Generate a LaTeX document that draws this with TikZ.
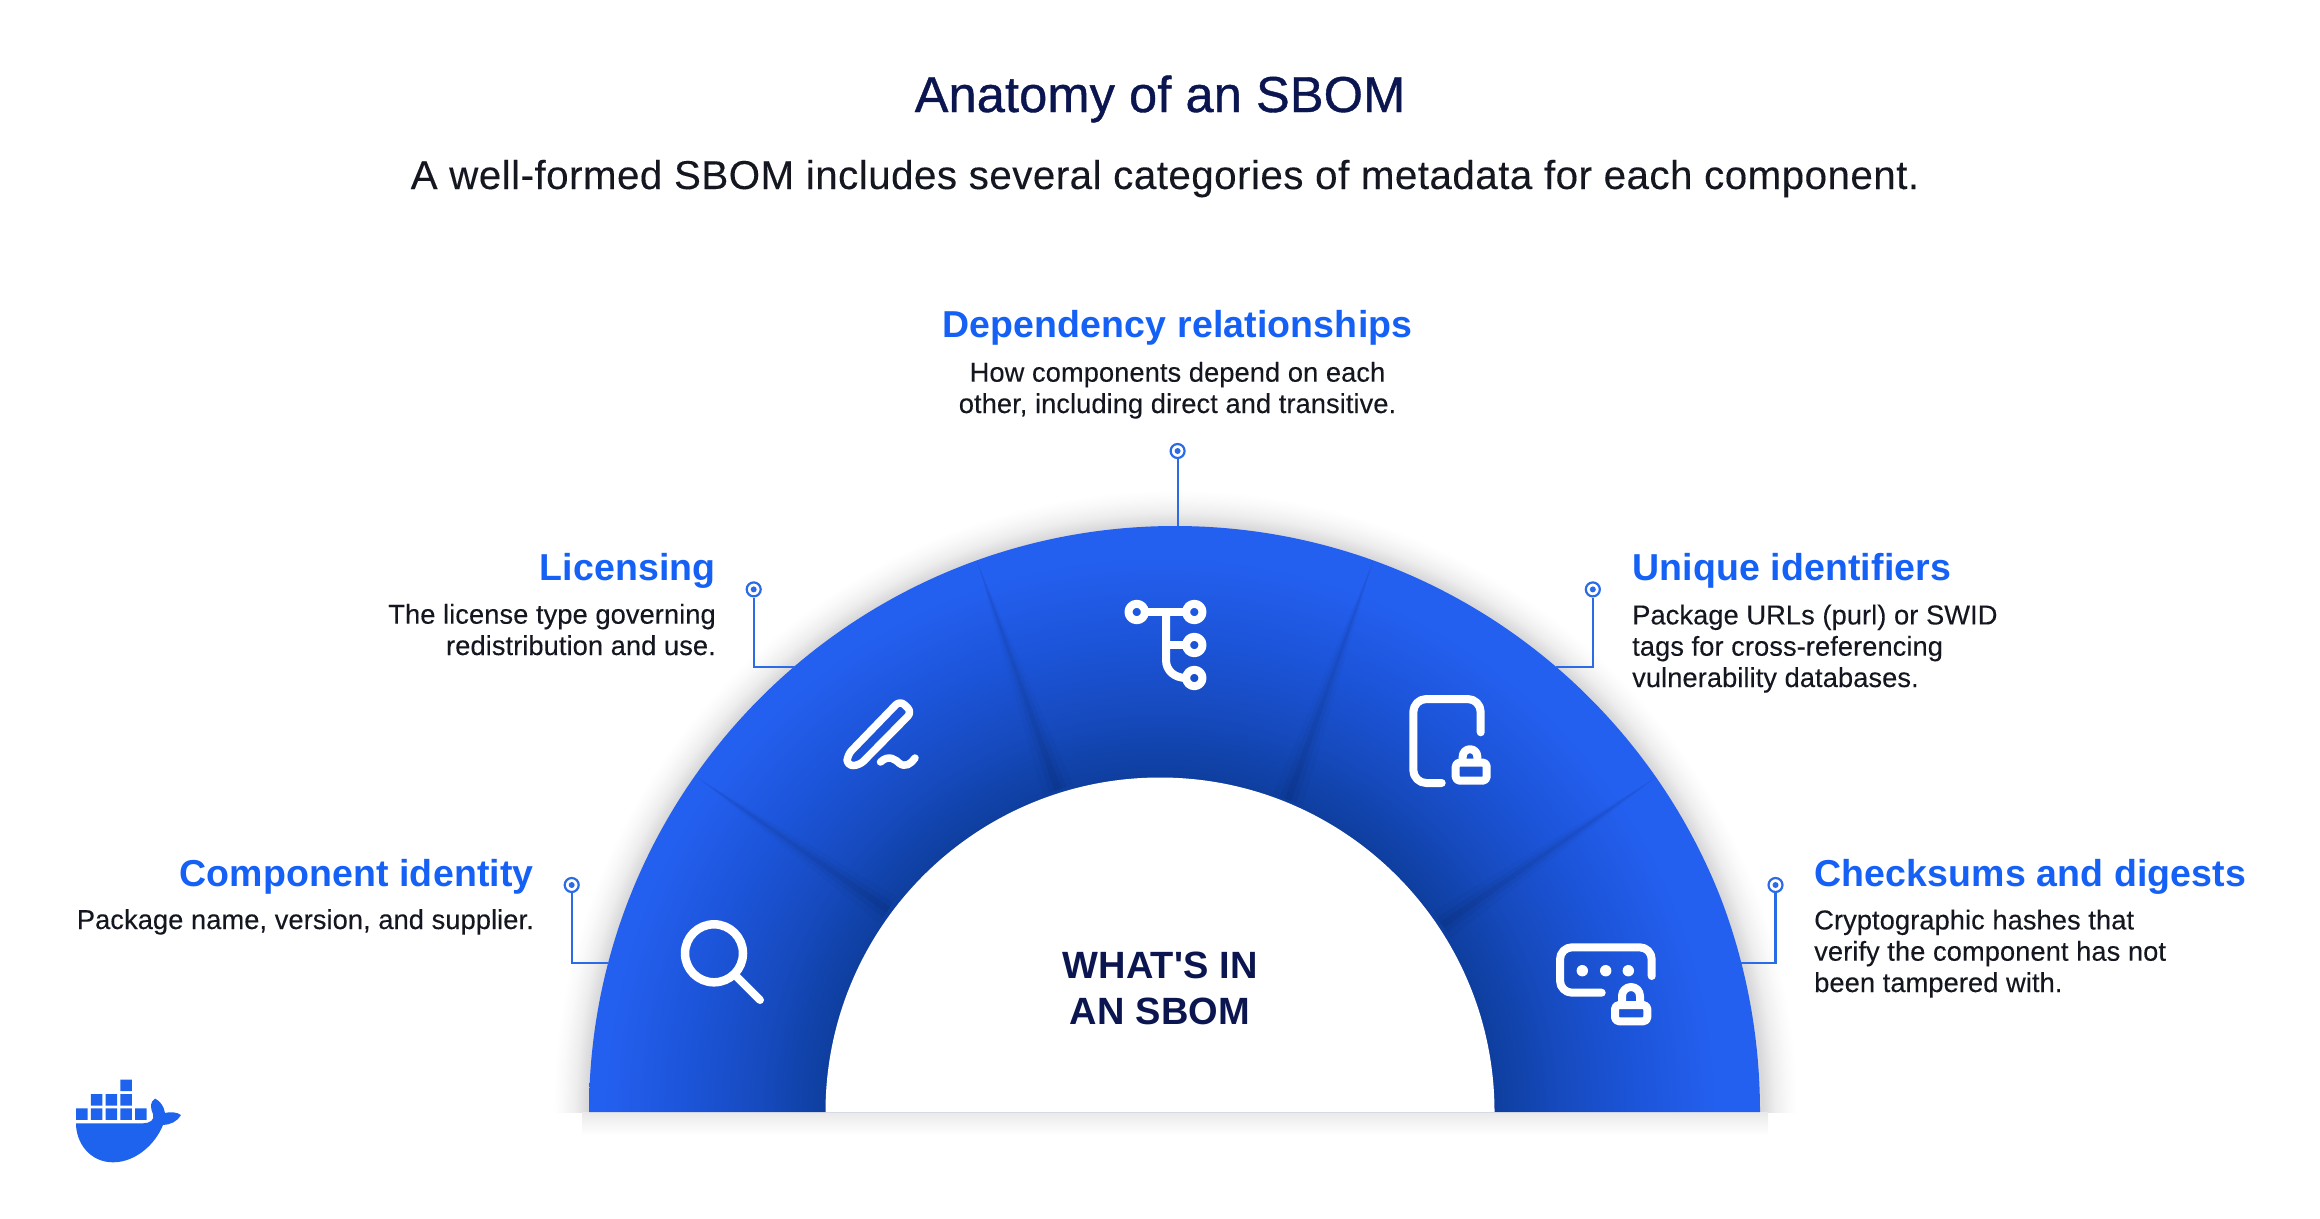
\documentclass[tikz,border=0pt]{standalone}
\usepackage{fontspec}
\usepackage{xcolor}
\usetikzlibrary{calc}
\setmainfont{Liberation Sans}
\newfontfamily\titlefont[LetterSpace=0.3,FakeBold=0.8]{Liberation Sans}
\newfontfamily\subfont[LetterSpace=1.2,FakeBold=0.2]{Liberation Sans}
\newfontfamily\headfont[LetterSpace=0.4,BoldFont={Liberation Sans Bold}]{Liberation Sans}
\newfontfamily\bodyfont[LetterSpace=0.2,FakeBold=0.2]{Liberation Sans}

\definecolor{navy}{HTML}{0B1650}
\definecolor{inktext}{HTML}{14171F}
\definecolor{headblue}{HTML}{1560F5}
\definecolor{pinblue}{HTML}{2C6BE8}
\definecolor{whaleblue}{HTML}{1D63ED}
\definecolor{ringA}{HTML}{0E3E9E}
\definecolor{ringB}{HTML}{164ABE}
\definecolor{ringC}{HTML}{1C54D8}
\definecolor{ringD}{HTML}{2460F0}
\definecolor{haloA}{HTML}{D8D8DA}

\pgfdeclareradialshading{ringshade}{\pgfpointorigin}{color(0bp)=(ringA); color(13.9bp)=(ringA); color(16.7bp)=(ringB); color(19.6bp)=(ringC); color(23.3bp)=(ringD); color(50bp)=(ringD)}
\pgfdeclareradialshading{haloshade}{\pgfpointorigin}{color(0bp)=(haloA); color(23.6bp)=(haloA); color(24.1bp)=(haloA!45!white); color(24.6bp)=(haloA!15!white); color(25bp)=(white); color(50bp)=(white)}

\tikzset{
	titletext/.style={anchor=base, inner sep=0pt, text=navy},
	headtext/.style={inner sep=0pt, text=headblue, font=\headfont\bfseries\fontsize{37.5}{42}\selectfont},
	bodytext/.style={inner sep=0pt, text=inktext, font=\bodyfont\fontsize{27.3}{31.3}\selectfont},
	pin/.style={circle, draw=pinblue, line width=2.2pt, minimum size=14pt, inner sep=0pt,
		path picture={\fill[pinblue] (path picture bounding box.center) circle (3pt);}},
	pinline/.style={draw=pinblue, line width=2.2pt},
	iconline/.style={draw=white, line width=8pt, line cap=round, line join=round},
}

% soft dark edge between two segments of the ring
\newcommand{\segedge}[2]{
	\fill[black, opacity=.025] (#1) -- ($(#2)!16pt!90:(#1)$) -- ($(#2)!16pt!-90:(#1)$) -- cycle;
	\fill[black, opacity=.035] (#1) -- ($(#2)!9pt!90:(#1)$) -- ($(#2)!9pt!-90:(#1)$) -- cycle;
	\fill[black, opacity=.05] (#1) -- ($(#2)!3.5pt!90:(#1)$) -- ($(#2)!3.5pt!-90:(#1)$) -- cycle;
}

\begin{document}
\begin{tikzpicture}[x=1pt, y=-1pt]
	\useasboundingbox (0,0) rectangle (2320,1218);

	% title
	\node[titletext, font=\titlefont\fontsize{50.5}{56}\selectfont] (title) at (1160,112) {Anatomy of an SBOM};
	\node[titletext, text=inktext, font=\subfont\fontsize{40.3}{46}\selectfont] (subtitle) at (1165,189) {A well-formed SBOM includes several categories of metadata for each component.};

	% shadow round the ring
	\begin{scope}
		\clip (300,300) rectangle (2050,1112);
		\shade[shading=haloshade] (1175,1112) circle (622pt);
	\end{scope}
	\shade[top color=haloA!55!white, bottom color=white] (582,1112) rectangle (1768,1135);

	% ring
	\begin{scope}
		\clip (589,1112) arc[start angle=180, end angle=0, radius=586pt] -- cycle;
		\shade[shading=ringshade] (1160,1112) circle (600pt);
		\coordinate (e1o) at (698,778);
		\coordinate (e1i) at (888,910);
		\coordinate (e2o) at (977,561);
		\coordinate (e2i) at (1058,790);
		\coordinate (e3o) at (1373,561);
		\coordinate (e3i) at (1288,800);
		\coordinate (e4o) at (1655,778);
		\coordinate (e4i) at (1442,925);
		\segedge{e1o}{e1i}
		\segedge{e2o}{e2i}
		\segedge{e3o}{e3i}
		\segedge{e4o}{e4i}
	\end{scope}
	\fill[white] (825.5,1112) arc[start angle=180, end angle=0, radius=334.5pt] -- cycle;
	\node[inner sep=0pt, align=center, text=navy, font=\headfont\bfseries\fontsize{38}{46}\selectfont] (centre) at (1160,988) {WHAT'S IN\\AN SBOM};

	% labels
	\node[headtext, anchor=base] (h1) at (1177.5,337) {Dependency relationships};
	\node[bodytext, anchor=base, align=center] (b1) at (1177.5,413) {How components depend on each\\other, including direct and transitive.};
	\node[headtext, anchor=base east] (h2) at (716,580) {Licensing};
	\node[bodytext, anchor=base east, align=right] (b2) at (716,655) {The license type governing\\redistribution and use.};
	\node[headtext, anchor=base west] (h3) at (1632,580) {Unique identifiers};
	\node[bodytext, anchor=base west, align=left] (b3) at (1632,687) {Package URLs (purl) or SWID\\tags for cross-referencing\\vulnerability databases.};
	\node[headtext, anchor=base east] (h4) at (534,886) {Component identity};
	\node[bodytext, anchor=base east, align=right] (b4) at (534,929) {Package name, version, and supplier.};
	\node[headtext, anchor=base west] (h5) at (1814,886) {Checksums and digests};
	\node[bodytext, anchor=base west, align=left] (b5) at (1814,992) {Cryptographic hashes that\\verify the component has not\\been tampered with.};

	% connectors
	\node[pin] (p1) at (1177.6,451) {};
	\node[pin] (p2) at (753.7,589.4) {};
	\node[pin] (p3) at (1592.8,589.4) {};
	\node[pin] (p4) at (571.7,885) {};
	\node[pin] (p5) at (1775.5,885) {};
	\coordinate (r1) at (1177.6,526);
	\coordinate (r2) at (795,667.3);
	\coordinate (r3) at (1556,667.3);
	\coordinate (r4) at (609,963.3);
	\coordinate (r5) at (1741,963.3);
	\draw[pinline] (p1) -- (r1);
	\draw[pinline] (p2) |- (r2);
	\draw[pinline] (p3) |- (r3);
	\draw[pinline] (p4) |- (r4);
	\draw[pinline] (p5) |- (r5);

	% magnifier
	\draw[iconline, line width=8.5pt] (714,953.3) circle (29pt);
	\draw[iconline] (736.7,976.7) -- (760,1000);

	% pen
	\draw[iconline, line width=7.5pt, rounded corners=6pt] (847,765.5) -- (847.3,755) -- (900,700.5) -- (912,712) -- (859.3,765.5) -- cycle;
	\draw[iconline, line width=7.5pt] (880.5,762) .. controls (889,754) and (896,760) .. (899,763) .. controls (905,768) and (911,764) .. (915,758);

	% tree
	\draw[iconline] (1136.7,612) circle (8.2pt);
	\draw[iconline] (1194.3,612) circle (8.2pt);
	\draw[iconline] (1194.3,645) circle (8.2pt);
	\draw[iconline] (1194.3,678) circle (8.2pt);
	\draw[iconline, line cap=butt] (1145,612) -- (1186,612);
	\draw[iconline, line cap=butt] (1166,645) -- (1186,645);
	\draw[iconline, line cap=butt] (1166,612) -- (1166,660) .. controls (1166,671) and (1175,678) .. (1186,678);

	% device with lock
	\draw[iconline, rounded corners=13pt] (1480.7,732.3) -- (1480.7,699) -- (1413.3,699) -- (1413.3,783) -- (1441.7,783);
	\draw[iconline, rounded corners=4pt] (1455.7,762.5) rectangle (1486.7,780.7);
	\draw[iconline] (1462.7,762) -- (1462.7,756.5) arc[start angle=180, end angle=0, radius=7.3pt] -- (1477.3,762);

	% digest with lock
	\draw[iconline, rounded corners=12pt] (1651.7,976) -- (1651.7,947.3) -- (1560,947.3) -- (1560,992.7) -- (1601.7,992.7);
	\fill[white] (1582.3,970.7) circle (5.7pt) (1605.7,970.7) circle (5.7pt) (1628.3,970.7) circle (5.7pt);
	\draw[iconline, rounded corners=4pt] (1615,1005) rectangle (1647.3,1021.3);
	\draw[iconline] (1622,1005) -- (1622,996) arc[start angle=180, end angle=0, radius=9pt] -- (1640,1005);

	% whale
	\fill[whaleblue] (76,1108.3) rectangle +(11.5,11.5) (90.8,1108.3) rectangle +(11.5,11.5)
		(105.5,1108.3) rectangle +(11.5,11.5) (120.3,1108.3) rectangle +(11.5,11.5)
		(135,1108.3) rectangle +(11.5,11.5) (90.8,1094) rectangle +(11.5,11.5)
		(105.5,1094) rectangle +(11.5,11.5) (120.3,1094) rectangle +(11.5,11.5)
		(120.3,1079.7) rectangle +(11.5,11.5);
	\fill[whaleblue] (76,1123.3) -- (143,1123.3) .. controls (150,1123.3) and (155,1120) .. (153,1114)
		.. controls (150,1107) and (150,1102) .. (155,1098.5) .. controls (160,1101) and (164,1106) .. (165,1113)
		.. controls (170,1111.5) and (177,1112) .. (181,1115) .. controls (178,1121) and (170,1125) .. (163,1125)
		.. controls (155,1145) and (135,1162.3) .. (113,1162.3) .. controls (90,1162.3) and (76,1143) .. (76,1123.3) -- cycle;
\end{tikzpicture}
\end{document}
